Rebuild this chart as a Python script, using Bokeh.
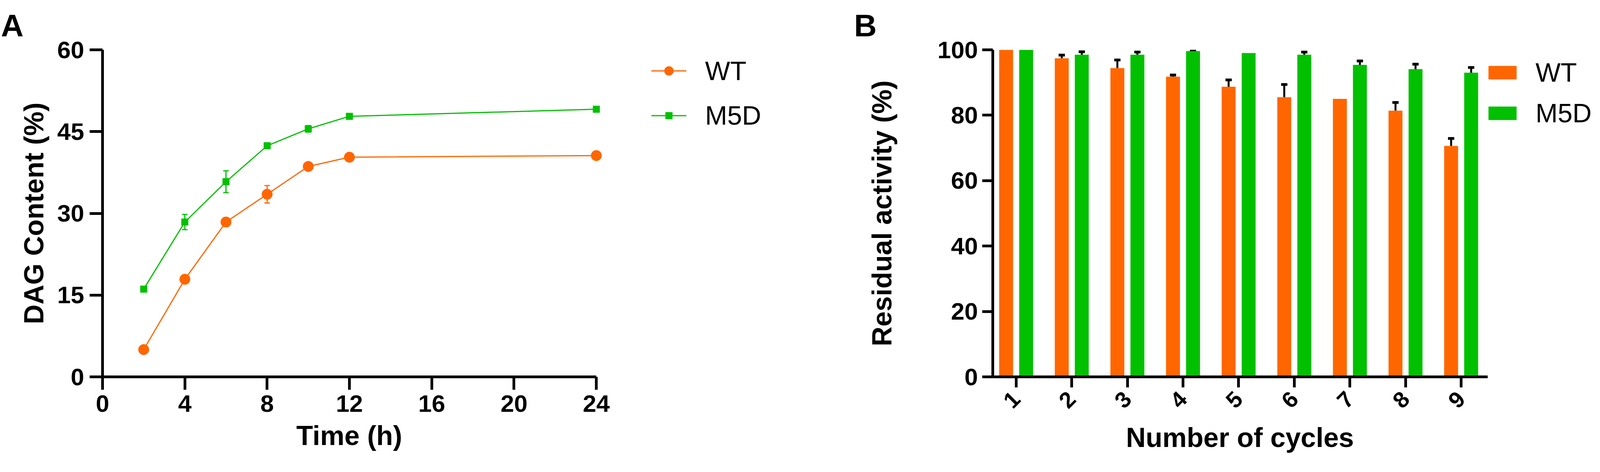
from math import pi
from bokeh.plotting import figure
from bokeh.models import (ColumnDataSource, Range1d, FixedTicker, Whisker, TeeHead,
                          Legend, LegendItem, Title)
from bokeh.layouts import row
from bokeh.transform import dodge
from bokeh.embed import file_html
from bokeh.resources import INLINE

# ---------------- data: panel A ----------------
time_h = [2, 4, 6, 8, 10, 12, 24]
wt_dag = [5.0, 17.9, 28.4, 33.5, 38.6, 40.3, 40.6]
wt_dag_err = [0.3, 0.8, 0.8, 1.6, 0.4, 0.3, 0.3]
m5d_dag = [16.1, 28.4, 35.8, 42.4, 45.5, 47.8, 49.1]
m5d_dag_err = [0.3, 1.4, 2.0, 0.5, 0.6, 0.3, 0.3]
time_ticks = [0, 4, 8, 12, 16, 20, 24]
dag_ticks = [0, 15, 30, 45, 60]

# ---------------- data: panel B ----------------
cycles = [1, 2, 3, 4, 5, 6, 7, 8, 9]
wt_act = [100.0, 97.4, 94.4, 91.8, 88.7, 85.5, 85.0, 81.4, 70.6]
wt_act_err = [0.0, 1.0, 2.5, 0.5, 2.1, 3.9, 0.0, 2.5, 2.3]
m5d_act = [100.0, 98.5, 98.5, 99.6, 99.0, 98.5, 95.4, 94.1, 93.0]
m5d_act_err = [0.0, 0.9, 0.8, 0.3, 0.0, 0.8, 1.2, 1.5, 1.6]
act_ticks = [0, 20, 40, 60, 80, 100]
series_names = ["WT", "M5D"]
panel_letters = ["A", "B"]
x_titles = ["Time (h)", "Number of cycles"]
y_titles = ["DAG Content (%)", "Residual activity (%)"]

ORANGE = "#FF6600"
GREEN = "#00C000"
FONT = "Liberation Sans"
H = 1192
TOP = 122
BOTTOM = 228


def style_axes(p, tick_out, label_size):
    for ax in (p.xaxis[0], p.yaxis[0]):
        ax.axis_line_width = 7
        ax.axis_line_color = "black"
        ax.major_tick_line_width = 7
        ax.major_tick_line_color = "black"
        ax.major_tick_out = tick_out
        ax.major_tick_in = 0
        ax.minor_tick_line_color = None
        ax.major_label_text_font = FONT
        ax.major_label_text_font_style = "bold"
        ax.major_label_text_font_size = label_size
        ax.major_label_text_color = "black"
        ax.axis_label_text_font = FONT
        ax.axis_label_text_font_style = "bold"
        ax.axis_label_text_font_size = "70px"
        ax.axis_label_text_color = "black"
    p.xgrid.visible = False
    p.ygrid.visible = False
    p.outline_line_color = None


def style_title(p, text, offset, standoff):
    p.title.text = text
    p.title.align = "left"
    p.title.offset = offset
    p.title.standoff = standoff
    p.title.text_font = FONT
    p.title.text_font_style = "bold"
    p.title.text_font_size = "80px"
    p.title.text_color = "black"


def x_title(p, text, offset, standoff):
    # x-axis title placed below the axis, centred under the drawn axis line
    p.add_layout(Title(text=text, align="left", offset=offset, standoff=standoff,
                       text_font=FONT, text_font_style="bold", text_font_size="70px",
                       text_color="black"), "below")


def legend(items, loc, gw, gh, standoff):
    return Legend(items=items, location=loc, glyph_width=gw, glyph_height=gh,
                  label_standoff=standoff, label_text_font=FONT,
                  label_text_font_size="68px", label_text_color="black",
                  padding=0, margin=0, spacing=0, border_line_color=None,
                  background_fill_alpha=0)


# ================= Panel A =================
WA = 2100
A_LEFT = 262
A_XPX = 52.67
pA = figure(width=WA, height=H, output_backend="svg", toolbar_location=None,
            x_range=Range1d(0, (WA - A_LEFT) / A_XPX), y_range=Range1d(0, 60),
            min_border_left=A_LEFT, min_border_right=0,
            min_border_top=TOP, min_border_bottom=BOTTOM)
style_axes(pA, 33, "62px")
style_title(pA, panel_letters[0], -260, 36)
pA.xaxis.ticker = FixedTicker(ticks=time_ticks)
pA.yaxis.ticker = FixedTicker(ticks=dag_ticks)
pA.xaxis.bounds = (time_ticks[0], time_ticks[-1])
pA.yaxis.bounds = (dag_ticks[0], dag_ticks[-1])
pA.yaxis.axis_label = y_titles[0]
pA.xaxis.major_label_standoff = 14
pA.yaxis.major_label_standoff = 14
pA.yaxis.axis_label_standoff = 18
x_title(pA, x_titles[0], int(12 * A_XPX - 136), 34)

srcA_wt = ColumnDataSource(dict(x=time_h, y=wt_dag,
                                lo=[v - e for v, e in zip(wt_dag, wt_dag_err)],
                                hi=[v + e for v, e in zip(wt_dag, wt_dag_err)]))
srcA_m5 = ColumnDataSource(dict(x=time_h, y=m5d_dag,
                                lo=[v - e for v, e in zip(m5d_dag, m5d_dag_err)],
                                hi=[v + e for v, e in zip(m5d_dag, m5d_dag_err)]))

lw = pA.line("x", "y", source=srcA_wt, line_color=ORANGE, line_width=3)
sw = pA.scatter("x", "y", source=srcA_wt, marker="circle", size=27,
                fill_color=ORANGE, line_color=ORANGE)
lm = pA.line("x", "y", source=srcA_m5, line_color=GREEN, line_width=3)
sm = pA.scatter("x", "y", source=srcA_m5, marker="square", size=17,
                fill_color=GREEN, line_color=GREEN)
for src, col in ((srcA_wt, ORANGE), (srcA_m5, GREEN)):
    pA.add_layout(Whisker(source=src, base="x", upper="hi", lower="lo",
                          line_color=col, line_width=3,
                          upper_head=TeeHead(size=14, line_color=col, line_width=3),
                          lower_head=TeeHead(size=14, line_color=col, line_width=3)))

pA.add_layout(legend([LegendItem(label=series_names[0], renderers=[lw, sw])],
                     (1405, 744), 90, 58, 48))
pA.add_layout(legend([LegendItem(label=series_names[1], renderers=[lm, sm])],
                     (1405, 630), 90, 43, 48))

# ================= Panel B =================
WB = 2079
B_LEFT = 441
B_XPX = 142.4
B_X0, B_X1 = 0.58, 9.48
pB = figure(width=WB, height=H, output_backend="svg", toolbar_location=None,
            x_range=Range1d(B_X0, B_X0 + (WB - B_LEFT) / B_XPX), y_range=Range1d(0, 100),
            min_border_left=B_LEFT, min_border_right=0,
            min_border_top=TOP, min_border_bottom=BOTTOM)
style_axes(pB, 27, "62px")
style_title(pB, panel_letters[1], -355, 36)
pB.xaxis.ticker = FixedTicker(ticks=cycles)
pB.yaxis.ticker = FixedTicker(ticks=act_ticks)
pB.xaxis.bounds = (B_X0, B_X1)
pB.yaxis.bounds = (act_ticks[0], act_ticks[-1])
pB.xaxis.major_label_orientation = pi / 4
pB.xaxis.major_label_text_font_size = "58px"
pB.yaxis.axis_label = y_titles[1]
pB.xaxis.major_label_standoff = 20
pB.yaxis.major_label_standoff = 11
pB.yaxis.axis_label_standoff = 100
x_title(pB, x_titles[1], int((B_X1 - B_X0) / 2 * B_XPX - 292), 27)

srcB = ColumnDataSource(dict(x=cycles, wt=wt_act, m5d=m5d_act))
bw = pB.vbar(x=dodge("x", -0.18, range=pB.x_range), top="wt", width=0.25,
             source=srcB, fill_color=ORANGE, line_color=None)
bm = pB.vbar(x=dodge("x", 0.18, range=pB.x_range), top="m5d", width=0.25,
             source=srcB, fill_color=GREEN, line_color=None)

for vals, errs, off in ((wt_act, wt_act_err, -0.18), (m5d_act, m5d_act_err, 0.18)):
    keep = [i for i, e in enumerate(errs) if e > 0]
    es = ColumnDataSource(dict(x=[cycles[i] + off for i in keep],
                               lo=[vals[i] for i in keep],
                               hi=[vals[i] + errs[i] for i in keep]))
    pB.add_layout(Whisker(source=es, base="x", upper="hi", lower="lo",
                          line_color="black", line_width=5,
                          upper_head=TeeHead(size=16, line_color="black", line_width=7),
                          lower_head=None))

pB.add_layout(legend([LegendItem(label=series_names[0], renderers=[bw])],
                     (1260, 740), 90, 43, 40))
pB.add_layout(legend([LegendItem(label=series_names[1], renderers=[bm])],
                     (1260, 636), 90, 43, 40))

layout = row(pA, pB)
open("out.html", "w").write(file_html(layout, INLINE))
